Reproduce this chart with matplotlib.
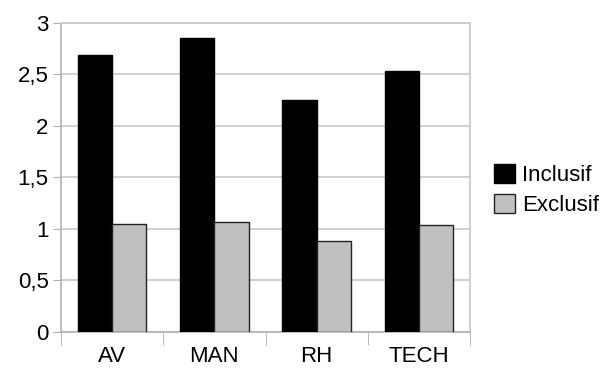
import matplotlib
matplotlib.use("Agg")
import matplotlib.pyplot as plt
import numpy as np

# data
categories = ["AV", "MAN", "RH", "TECH"]
inclusif = [2.69, 2.85, 2.25, 2.53]
exclusif = [1.05, 1.07, 0.88, 1.04]
yticks = [0, 0.5, 1, 1.5, 2, 2.5, 3]
ytick_labels = ["0", "0,5", "1", "1,5", "2", "2,5", "3"]

plt.rcParams['font.family'] = ['Liberation Sans', 'DejaVu Sans']

fig = plt.figure(figsize=(6.06, 3.68), dpi=100)
ax = fig.add_axes([0.1007, 0.0987, 0.675, 0.8388])

x = np.arange(len(categories))
w = 0.335
ax.bar(x - w / 2, inclusif, w, color="black", edgecolor="black", linewidth=1, label="Inclusif", zorder=3)
ax.bar(x + w / 2, exclusif, w, color="#c0c0c0", edgecolor="#222222", linewidth=1, label="Exclusif", zorder=3)

ax.set_xlim(-0.5, len(categories) - 0.5)
ax.set_ylim(0, 3)
ax.set_yticks(yticks)
ax.set_yticklabels(ytick_labels, fontsize=16)
ax.set_xticks(x)
ax.set_xticklabels(categories, fontsize=16)
ax.set_xticks(np.arange(-0.5, len(categories)), minor=True)
ax.tick_params(axis="x", which="major", length=0, pad=10)
ax.tick_params(axis="x", which="minor", length=9, color="#b0b0b0")
ax.tick_params(axis="y", length=6, color="#b0b0b0", pad=3)

ax.grid(axis="y", color="#c8c8c8", linewidth=1.2, zorder=0)
for s in ax.spines.values():
    s.set_color("#c8c8c8")
    s.set_linewidth(1.2)
ax.spines["left"].set_color("#b0b0b0")
ax.spines["bottom"].set_color("#b0b0b0")

fig.legend(loc="center left", bbox_to_anchor=(0.815, 0.484), frameon=False, fontsize=16,
           borderpad=0, borderaxespad=0,
           handlelength=0.95, handleheight=0.95, handletextpad=0.3, labelspacing=0.35)

fig.savefig("out.png", dpi=100)
